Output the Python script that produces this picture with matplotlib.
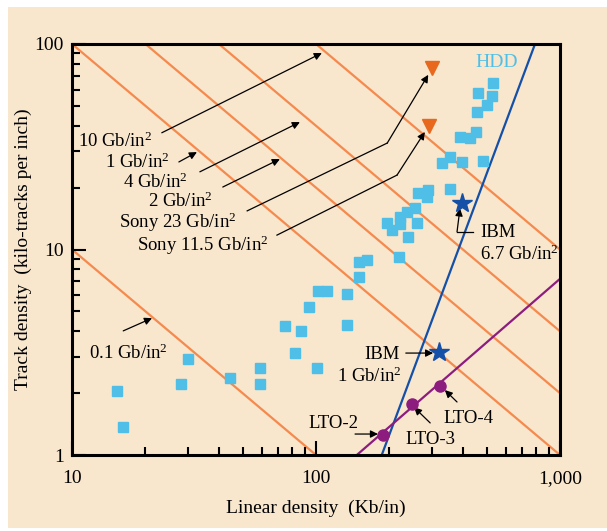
"""Track density vs linear density for HDD and tape recording."""

import matplotlib

matplotlib.use("Agg")
import matplotlib.pyplot as plt
from matplotlib.patches import Rectangle
from matplotlib.ticker import FixedLocator, FixedFormatter, LogLocator, NullFormatter

BEIGE = "#f8e6cd"
HDD_BLUE = "#4fbfe7"
DARK_BLUE = "#1450a8"
ORANGE_LINE = "#f58a4e"
ORANGE_TRI = "#e8691e"
PURPLE = "#8c1d7e"

# HDD demos: linear density (Kb/in), track density (ktpi)
hdd_linear = [15.3, 16.2, 28.0, 29.9, 44.4, 58.9, 58.9, 74.6, 86.8, 82.0, 93.6,
              102, 111, 101, 134, 134, 150, 150, 162, 195, 205, 221, 236, 255,
              221, 259, 238, 219, 262, 288, 284, 354, 328, 354, 396, 483, 389,
              428, 452, 457, 502, 526, 461, 531]
hdd_track = [2.05, 1.37, 2.22, 2.93, 2.37, 2.65, 2.22, 4.24, 4.01, 3.14, 5.25,
             6.28, 6.28, 2.65, 4.29, 6.07, 7.35, 8.70, 8.89, 13.5, 12.4, 14.4,
             15.2, 15.9, 13.3, 13.5, 11.5, 9.2, 18.8, 19.5, 18.0, 19.7, 26.4,
             28.2, 26.7, 27.0, 35.3, 34.9, 37.3, 46.7, 50.5, 55.8, 57.8, 64.6]

# tape demos
sony_linear = [298, 290]
sony_track = [76.4, 39.7]
ibm_linear = [396, 319]
ibm_track = [16.8, 3.17]
lto_linear = [188, 247, 322]
lto_track = [1.25, 1.77, 2.17]

# boundary lines
hdd_limit_x = [186, 790]
hdd_limit_y = [1, 100]
lto_trend_x = [147, 1000]
lto_trend_y = [1, 7.2]

# constant areal density lines (Gb/in^2)
areal_densities = [0.1, 1, 2, 4, 10]
iso_x = [10, 1000]

x_ticks = [10, 100, 1000]
x_tick_labels = ["10", "100", "1,000"]
y_ticks = [1, 10, 100]
y_tick_labels = ["1", "10", "100"]

plt.rcParams["font.family"] = ["Liberation Serif", "DejaVu Serif"]
plt.rcParams["mathtext.fontset"] = "custom"
plt.rcParams["mathtext.rm"] = "Liberation Serif"
plt.rcParams["mathtext.it"] = "Liberation Serif:italic"

fig = plt.figure(figsize=(6.07, 5.31), dpi=100, facecolor="white")
fig.patches.append(Rectangle((8 / 607, 3 / 531), 1, 1 - 10 / 531,
                             transform=fig.transFigure, facecolor=BEIGE,
                             edgecolor="none", zorder=-10))
ax = fig.add_axes([72 / 607, 1 - 455 / 531, 488 / 607, 411 / 531])
ax.set_facecolor(BEIGE)
ax.set_xscale("log")
ax.set_yscale("log")
ax.set_xlim(10, 1000)
ax.set_ylim(1, 100)

for d in areal_densities:
    ax.plot(iso_x, [d * 1000 / x for x in iso_x], color=ORANGE_LINE, lw=1.6, zorder=1)

ax.plot(hdd_limit_x, hdd_limit_y, color=DARK_BLUE, lw=1.6, zorder=2)
ax.plot(lto_trend_x, lto_trend_y, color=PURPLE, lw=1.6, zorder=2)

ax.plot(hdd_linear, hdd_track, ls="none", marker="s", ms=7.3, mfc=HDD_BLUE,
        mec=HDD_BLUE, zorder=3)
ax.plot(sony_linear, sony_track, ls="none", marker="v", ms=10, mfc=ORANGE_TRI,
        mec=ORANGE_TRI, zorder=4)
ax.plot(ibm_linear, ibm_track, ls="none", marker="*", ms=15, mfc=DARK_BLUE,
        mec=DARK_BLUE, zorder=4)
ax.plot(lto_linear, lto_track, ls="none", marker="o", ms=8, mfc=PURPLE,
        mec=PURPLE, zorder=4)

fs = 13.5
arrow = dict(arrowstyle="-|>", color="black", lw=0.9, mutation_scale=11,
             shrinkA=0, shrinkB=0)
line_kw = dict(color="black", lw=0.9, transform=ax.transAxes, clip_on=False)


def label(x, y, s, ha="left"):
    ax.text(x, y, s, transform=ax.transAxes, ha=ha, va="baseline", fontsize=fs)


def pointer(start, tip):
    ax.annotate("", xy=tip, xytext=start, xycoords="axes fraction",
                textcoords="axes fraction", arrowprops=arrow)


gb = r" Gb/in$^{2}$"
label(0.012, 0.749, "10" + gb)
label(0.068, 0.698, "1" + gb)
label(0.104, 0.650, "4" + gb)
label(0.156, 0.603, "2" + gb)
label(0.096, 0.552, "Sony 23" + gb)
label(0.133, 0.496, "Sony 11.5" + gb)
pointer((0.184, 0.784), (0.512, 0.978))
pointer((0.219, 0.713), (0.256, 0.737))
pointer((0.262, 0.689), (0.467, 0.810))
pointer((0.309, 0.652), (0.426, 0.720))
ax.plot([0.359, 0.646], [0.594, 0.759], **line_kw)
pointer((0.646, 0.759), (0.730, 0.925))
ax.plot([0.420, 0.666], [0.535, 0.681], **line_kw)
pointer((0.666, 0.681), (0.723, 0.786))

label(0.035, 0.234, "0.1" + gb)
pointer((0.105, 0.302), (0.164, 0.333))

ax.text(0.826, 0.944, "HDD", transform=ax.transAxes, color=HDD_BLUE,
        fontsize=14, va="baseline")

label(0.836, 0.530, "IBM")
label(0.836, 0.475, "6.7" + gb)
ax.plot([0.822, 0.789], [0.543, 0.543], **line_kw)
pointer((0.789, 0.543), (0.795, 0.600))

label(0.672, 0.234, "IBM", ha="right")
label(0.676, 0.178, "1" + gb, ha="right")
pointer((0.684, 0.248), (0.740, 0.248))

label(0.586, 0.066, "LTO-2", ha="right")
pointer((0.580, 0.051), (0.627, 0.051))
label(0.684, 0.027, "LTO-3")
pointer((0.734, 0.078), (0.701, 0.116))
label(0.762, 0.078, "LTO-4")
pointer((0.789, 0.129), (0.764, 0.158))

ax.xaxis.set_major_locator(FixedLocator(x_ticks))
ax.xaxis.set_major_formatter(FixedFormatter(x_tick_labels))
ax.yaxis.set_major_locator(FixedLocator(y_ticks))
ax.yaxis.set_major_formatter(FixedFormatter(y_tick_labels))
for axis in (ax.xaxis, ax.yaxis):
    axis.set_minor_locator(LogLocator(base=10, subs=range(2, 10)))
    axis.set_minor_formatter(NullFormatter())
ax.tick_params(which="both", direction="in", top=False, right=False,
               width=1.5, labelsize=14, color="black")
ax.tick_params(which="major", length=10)
ax.tick_params(which="minor", length=5.5)
ax.tick_params(axis="x", which="major", pad=11)
ax.tick_params(axis="y", which="major", pad=6)
for spine in ax.spines.values():
    spine.set_linewidth(2.2)

ax.set_xlabel("Linear density  (Kb/in)", fontsize=14, labelpad=9)
ax.set_ylabel("Track density  (kilo-tracks per inch)", fontsize=14, labelpad=2)

fig.savefig("out.png", dpi=100, facecolor=fig.get_facecolor())
